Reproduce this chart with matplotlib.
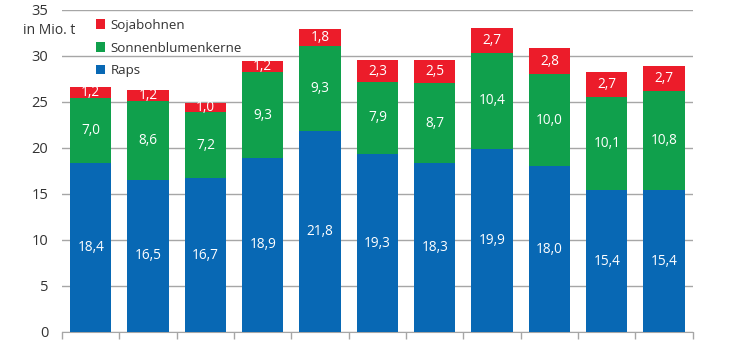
import numpy as np
import matplotlib.pyplot as plt

raps = [18.4, 16.5, 16.7, 18.9, 21.8, 19.3, 18.3, 19.9, 18.0, 15.4, 15.4]
sonnenblumen = [7.0, 8.6, 7.2, 9.3, 9.3, 7.9, 8.7, 10.4, 10.0, 10.1, 10.8]
soja = [1.2, 1.2, 1.0, 1.2, 1.8, 2.3, 2.5, 2.7, 2.8, 2.7, 2.7]
y_ticks = [0, 5, 10, 15, 20, 25, 30, 35]

plt.rcParams['font.family'] = ['Open Sans', 'DejaVu Sans']

c_raps = '#0868b4'
c_sonne = '#10a04c'
c_soja = '#ec1c2a'

fig = plt.figure(figsize=(7.3, 3.4), dpi=100)
ax = fig.add_axes([0.085, 0.024, 0.864, 0.947])

x = np.arange(len(raps))
w = 0.72
raps = np.array(raps)
sonnenblumen = np.array(sonnenblumen)
soja = np.array(soja)

b1 = ax.bar(x, raps, w, color=c_raps, zorder=3, label='Raps')
b2 = ax.bar(x, sonnenblumen, w, bottom=raps, color=c_sonne, zorder=3,
            label='Sonnenblumenkerne')
b3 = ax.bar(x, soja, w, bottom=raps + sonnenblumen, color=c_soja, zorder=3,
            label='Sojabohnen')

def fmt(v):
    return f'{v:.1f}'.replace('.', ',')

for i in x:
    ax.text(i, raps[i] / 2, fmt(raps[i]), ha='center', va='center',
            color='white', fontsize=9.8, zorder=4)
    ax.text(i, raps[i] + sonnenblumen[i] / 2, fmt(sonnenblumen[i]),
            ha='center', va='center', color='white', fontsize=9.8, zorder=4)
    ax.text(i, raps[i] + sonnenblumen[i] + soja[i] / 2, fmt(soja[i]),
            ha='center', va='center', color='white', fontsize=9.8, zorder=4)

ax.set_ylim(0, 35)
ax.set_xlim(-0.5, len(raps) - 0.5)
ax.set_yticks(y_ticks)
ax.yaxis.grid(True, color='#a6a6a6', linewidth=1, zorder=0)
ax.set_xticks(np.arange(len(raps) + 1) - 0.5)
ax.set_xticklabels([])
ax.tick_params(axis='x', length=5, color='#a6a6a6', width=1)
ax.tick_params(axis='y', length=0, labelsize=10.5, labelcolor='#333333', pad=10)
for s in ['top', 'right', 'left']:
    ax.spines[s].set_visible(False)
ax.spines['bottom'].set_color('#a6a6a6')

fig.text(0.031, 0.91, 'in Mio. t', fontsize=10, color='#333333', va='center')

leg = ax.legend(handles=[b3, b2, b1], loc='upper left',
                bbox_to_anchor=(0.035, 1.01), frameon=False,
                handlelength=0.7, handleheight=0.7, handletextpad=0.4,
                labelspacing=0.74, fontsize=9.6)
for t in leg.get_texts():
    t.set_color('#333333')

fig.savefig('out.png', dpi=100)
